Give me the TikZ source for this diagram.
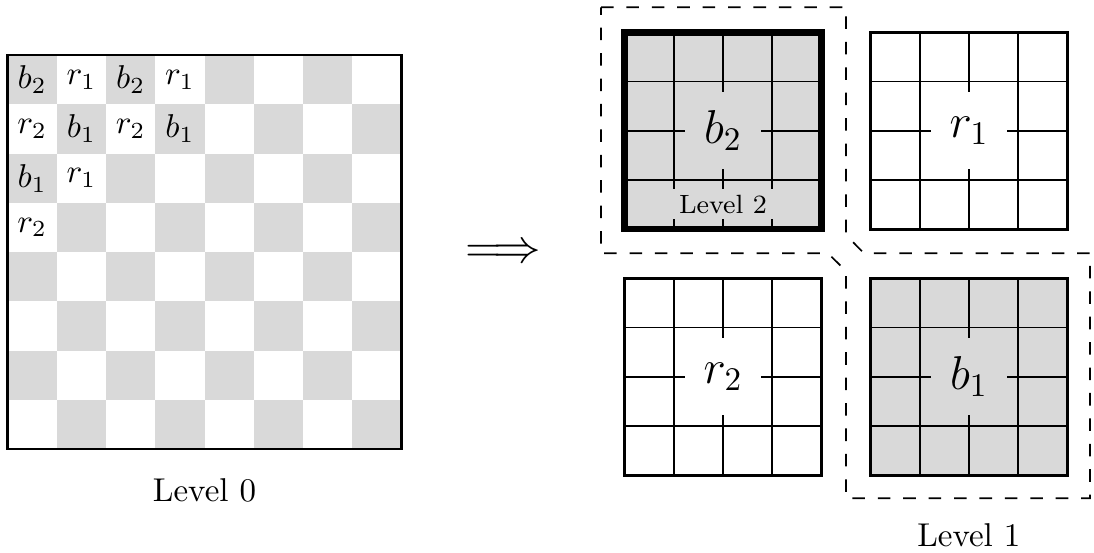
\documentclass[tikz,border=0pt]{standalone}
\begin{document}
\begin{tikzpicture}[x=0.303pt,y=-0.303pt,
  boardline/.style={line width=0.9pt},
  gridline/.style={line width=0.5pt},
  caption/.style={anchor=base,inner sep=0pt},
  blocklabel/.style={inner sep=0pt,minimum size=23.2pt,font=\Large},
  groupline/.style={line width=0.5pt,dash pattern=on 3.8pt off 3.9pt}]
\useasboundingbox (0,0) rectangle (1094,552);
% ---------- level 0 board ----------
\foreach \i in {0,...,7}{
  \foreach \j in {0,...,7}{
    \pgfmathtruncatemacro{\s}{mod(\i+\j,2)}
    \ifnum\s=0
      \fill[gray!30] ({7.5+\j*49.25},{55+\i*49.25}) rectangle ++(49.25,49.25);
    \fi
  }
}
\draw[boardline] (7.5,55) rectangle (401.5,449);
\foreach \i/\j/\t in {0/0/b_2,0/1/r_1,0/2/b_2,0/3/r_1,
                      1/0/r_2,1/1/b_1,1/2/r_2,1/3/b_1,
                      2/0/b_1,2/1/r_1,3/0/r_2}{
  \node[inner sep=0pt] at ({7.5+24.625+\j*49.25},{55+24.625+\i*49.25}) {$\t$};
}
\node[caption] (lev0) at (204.5,501.7) {Level 0};
% ---------- arrow ----------
\node[anchor=base east,inner sep=0pt,font=\fontsize{14.8}{18}\selectfont] (arr) at (541.5,262.2) {$\Longrightarrow$};
% ---------- level 1 blocks ----------
\foreach \X/\Y/\f/\t/\w/\n in {0/0/gray!30/b_2/2pt/lb2, 5/0/white/r_1/0.9pt/lr1,
                               0/5/white/r_2/0.9pt/lr2, 5/5/gray!30/b_1/0.9pt/lb1}{
  \begin{scope}[shift={({624.7+\X*49.2},{32.3+\Y*49.2})}]
    \fill[\f] (0,0) rectangle (196.8,196.8);
    \foreach \k in {1,2,3}{
      \draw[gridline] ({\k*49.2},0) -- ({\k*49.2},196.8);
      \draw[gridline] (0,{\k*49.2}) -- (196.8,{\k*49.2});
    }
    \node[blocklabel,fill=\f] (\n) at (98.4,98.4) {$\t$};
    \draw[line width=\w] (0,0) rectangle (196.8,196.8);
  \end{scope}
}
\node[fill=gray!30,inner sep=0pt,minimum width=36pt,minimum height=9.1pt,font=\footnotesize] (lev2) at (723,204) {Level 2};
% ---------- grouping outline ----------
\draw[groupline] (601,7.3) -- (846,7.3) -- (846,235) -- (864,253.3) -- (1090,253.3)
  -- (1090,498.3) -- (846,498.3) -- (846,271) -- (828,253.3) -- (601,253.3) -- cycle;
\node[caption] (lev1) at (968.8,546) {Level 1};
\end{tikzpicture}
\end{document}
